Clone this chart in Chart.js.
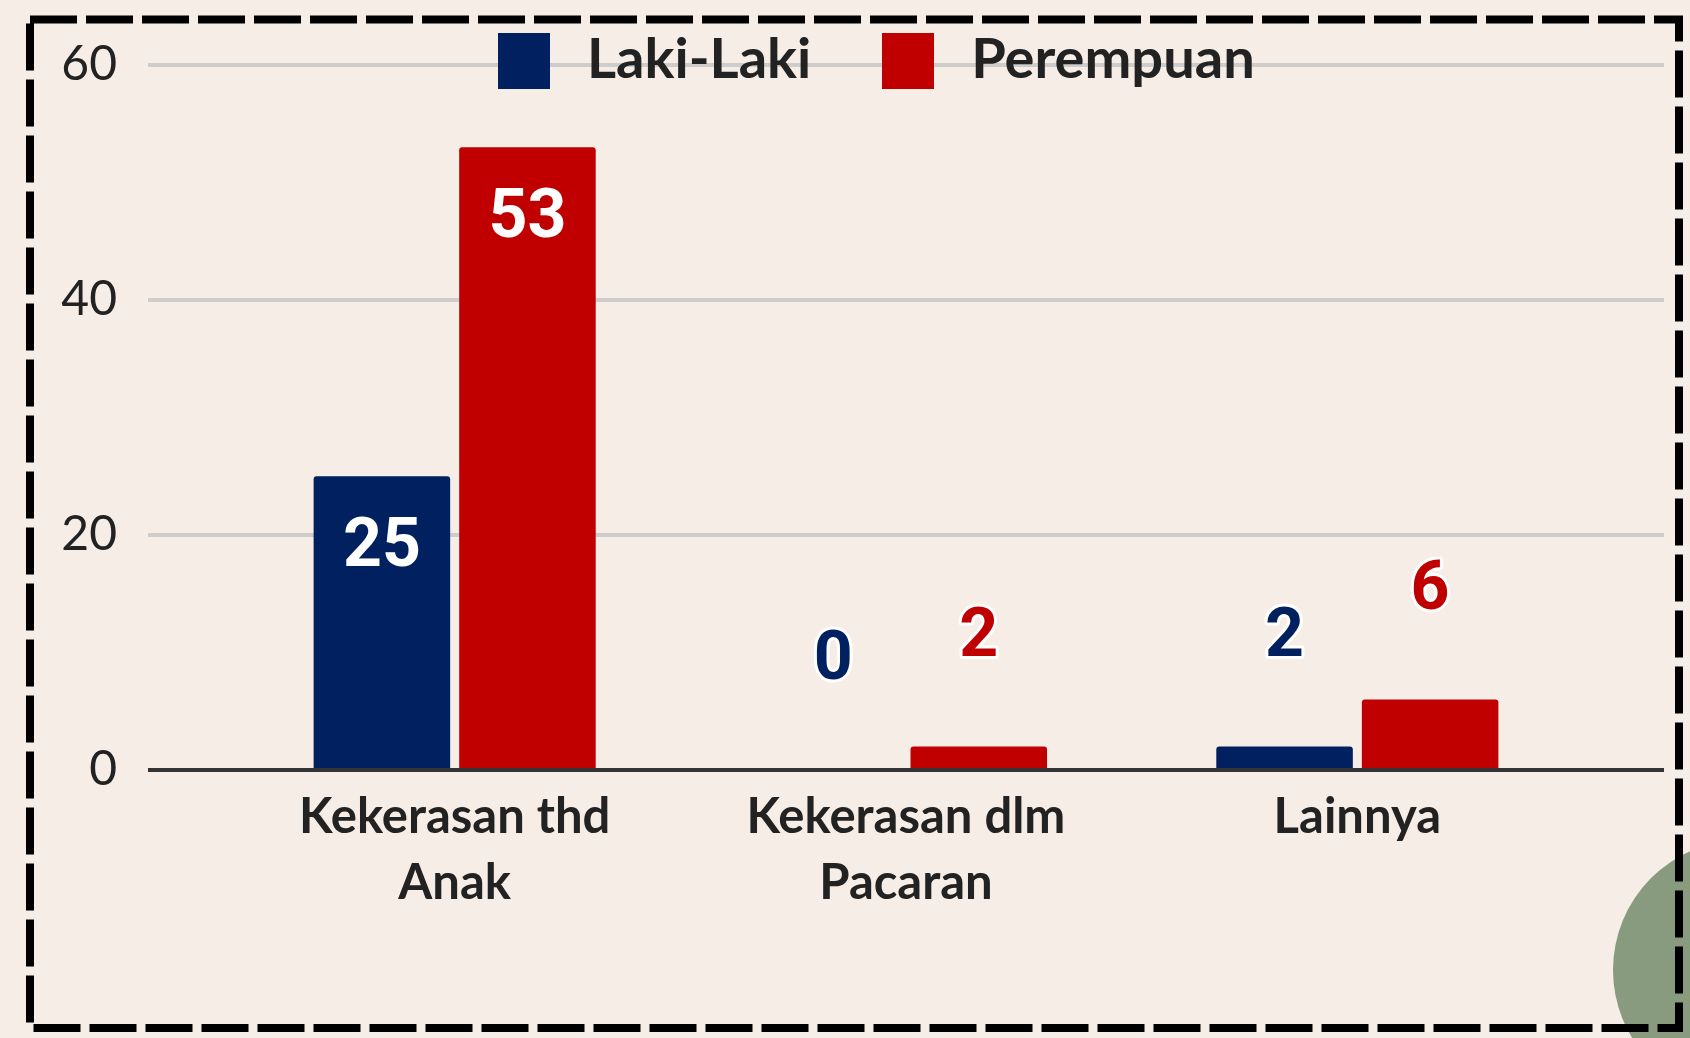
<!DOCTYPE html>
<html><head><meta charset="utf-8">
<script src="https://cdn.jsdelivr.net/npm/chart.js@4.4.1/dist/chart.umd.min.js"></script>
<style>
html,body{margin:0;padding:0;background:#F5EDE6;width:1690px;height:1038px;overflow:hidden;}
#wrap{position:relative;width:1690px;height:1038px;}
#leaf{position:absolute;left:1613px;top:840px;width:260px;height:260px;border-radius:50%;background:#889B7E;}
#chart{position:absolute;left:0;top:0;}
#frame{position:absolute;left:0;top:0;}
#legend{position:absolute;left:498px;top:33px;height:56px;display:flex;align-items:center;font-family:Lato,sans-serif;font-weight:700;font-size:56px;color:#222;}
#legend .item{display:flex;align-items:center;margin-right:71px;}
#legend .sw{width:52px;height:56px;margin-right:37px;}
#legend .tx{position:relative;top:-5px;white-space:nowrap;}
</style></head>
<body>
<div id="wrap">
  <div id="leaf"></div>
  <canvas id="chart" width="1690" height="1038"></canvas>
  <div id="legend"></div>
  <svg id="frame" width="1690" height="1038"><rect x="30" y="19.5" width="1649" height="1008.5" fill="none" stroke="#000" stroke-width="8" stroke-dasharray="47 9"/></svg>
</div>
<script>
const categories = [['Kekerasan thd', 'Anak'], ['Kekerasan dlm', 'Pacaran'], ['Lainnya']];
const seriesNames = ['Laki-Laki', 'Perempuan'];
const lakiLaki = [25, 0, 2];
const perempuan = [53, 2, 6];
const yMin = 0, yMax = 60, yStep = 20;
const seriesColors = ['#00205F', '#C00000'];

const gridColor = c => (c.tick && c.tick.value === 0) ? '#333333' : '#CDCDCD';

const valueLabels = {
  id: 'valueLabels',
  afterDatasetsDraw(chart) {
    const ctx = chart.ctx;
    chart.data.datasets.forEach((ds, i) => {
      const meta = chart.getDatasetMeta(i);
      meta.data.forEach((bar, j) => {
        const v = ds.data[j];
        const h = bar.base - bar.y;
        ctx.save();
        ctx.font = 'bold 68px Roboto';
        ctx.textAlign = 'center';
        ctx.textBaseline = 'middle';
        if (h > 150) {
          ctx.fillStyle = '#FFFFFF';
          ctx.fillText(String(v), bar.x, bar.y + 73);
        } else {
          ctx.lineWidth = 6;
          ctx.lineJoin = 'round';
          ctx.strokeStyle = '#FFFFFF';
          ctx.strokeText(String(v), bar.x, bar.y - 108);
          ctx.fillStyle = ds.backgroundColor;
          ctx.fillText(String(v), bar.x, bar.y - 108);
        }
        ctx.restore();
      });
    });
  }
};

const chart = new Chart(document.getElementById('chart'), {
  type: 'bar',
  data: {
    labels: categories,
    datasets: [
      { label: seriesNames[0], data: lakiLaki, backgroundColor: seriesColors[0] },
      { label: seriesNames[1], data: perempuan, backgroundColor: seriesColors[1] }
    ]
  },
  options: {
    responsive: false,
    animation: false,
    devicePixelRatio: 1,
    layout: { padding: { top: 65, bottom: 0, left: 0, right: 0 } },
    plugins: { legend: { display: false }, tooltip: { enabled: false } },
    datasets: { bar: { categoryPercentage: 0.645, barPercentage: 0.938, borderRadius: { topLeft: 3, topRight: 3 }, borderSkipped: 'bottom' } },
    scales: {
      x: {
        z: 1,
        grid: { display: false, drawTicks: false },
        border: { display: true, color: '#333333', width: 4 },
        ticks: { font: { family: 'Lato', weight: 'bold', size: 49, lineHeight: 1.35 }, color: '#222222', padding: 14, maxRotation: 0, autoSkip: false },
        afterFit(s) { s.height = 268; }
      },
      y: {
        min: yMin, max: yMax,
        ticks: { stepSize: yStep, padding: 31, color: '#222222', font: { family: 'Lato', size: 48 } },
        grid: { color: gridColor, tickColor: gridColor, lineWidth: 4, tickWidth: 4, drawTicks: true, tickLength: 81 },
        border: { display: false },
        afterFit(s) { s.width = 229; }
      },
      y2: {
        position: 'right',
        min: yMin, max: yMax,
        ticks: { display: false, stepSize: yStep },
        grid: { drawOnChartArea: false, color: gridColor, tickColor: gridColor, lineWidth: 4, tickWidth: 4, drawTicks: true, tickLength: 81 },
        border: { display: false },
        afterFit(s) { s.width = 107; }
      }
    }
  },
  plugins: [valueLabels]
});

const legendEl = document.getElementById('legend');
chart.data.datasets.forEach(ds => {
  const item = document.createElement('div');
  item.className = 'item';
  const sw = document.createElement('div');
  sw.className = 'sw';
  sw.style.background = ds.backgroundColor;
  const tx = document.createElement('span');
  tx.className = 'tx';
  tx.textContent = ds.label;
  item.appendChild(sw);
  item.appendChild(tx);
  legendEl.appendChild(item);
});
</script>
</body></html>
